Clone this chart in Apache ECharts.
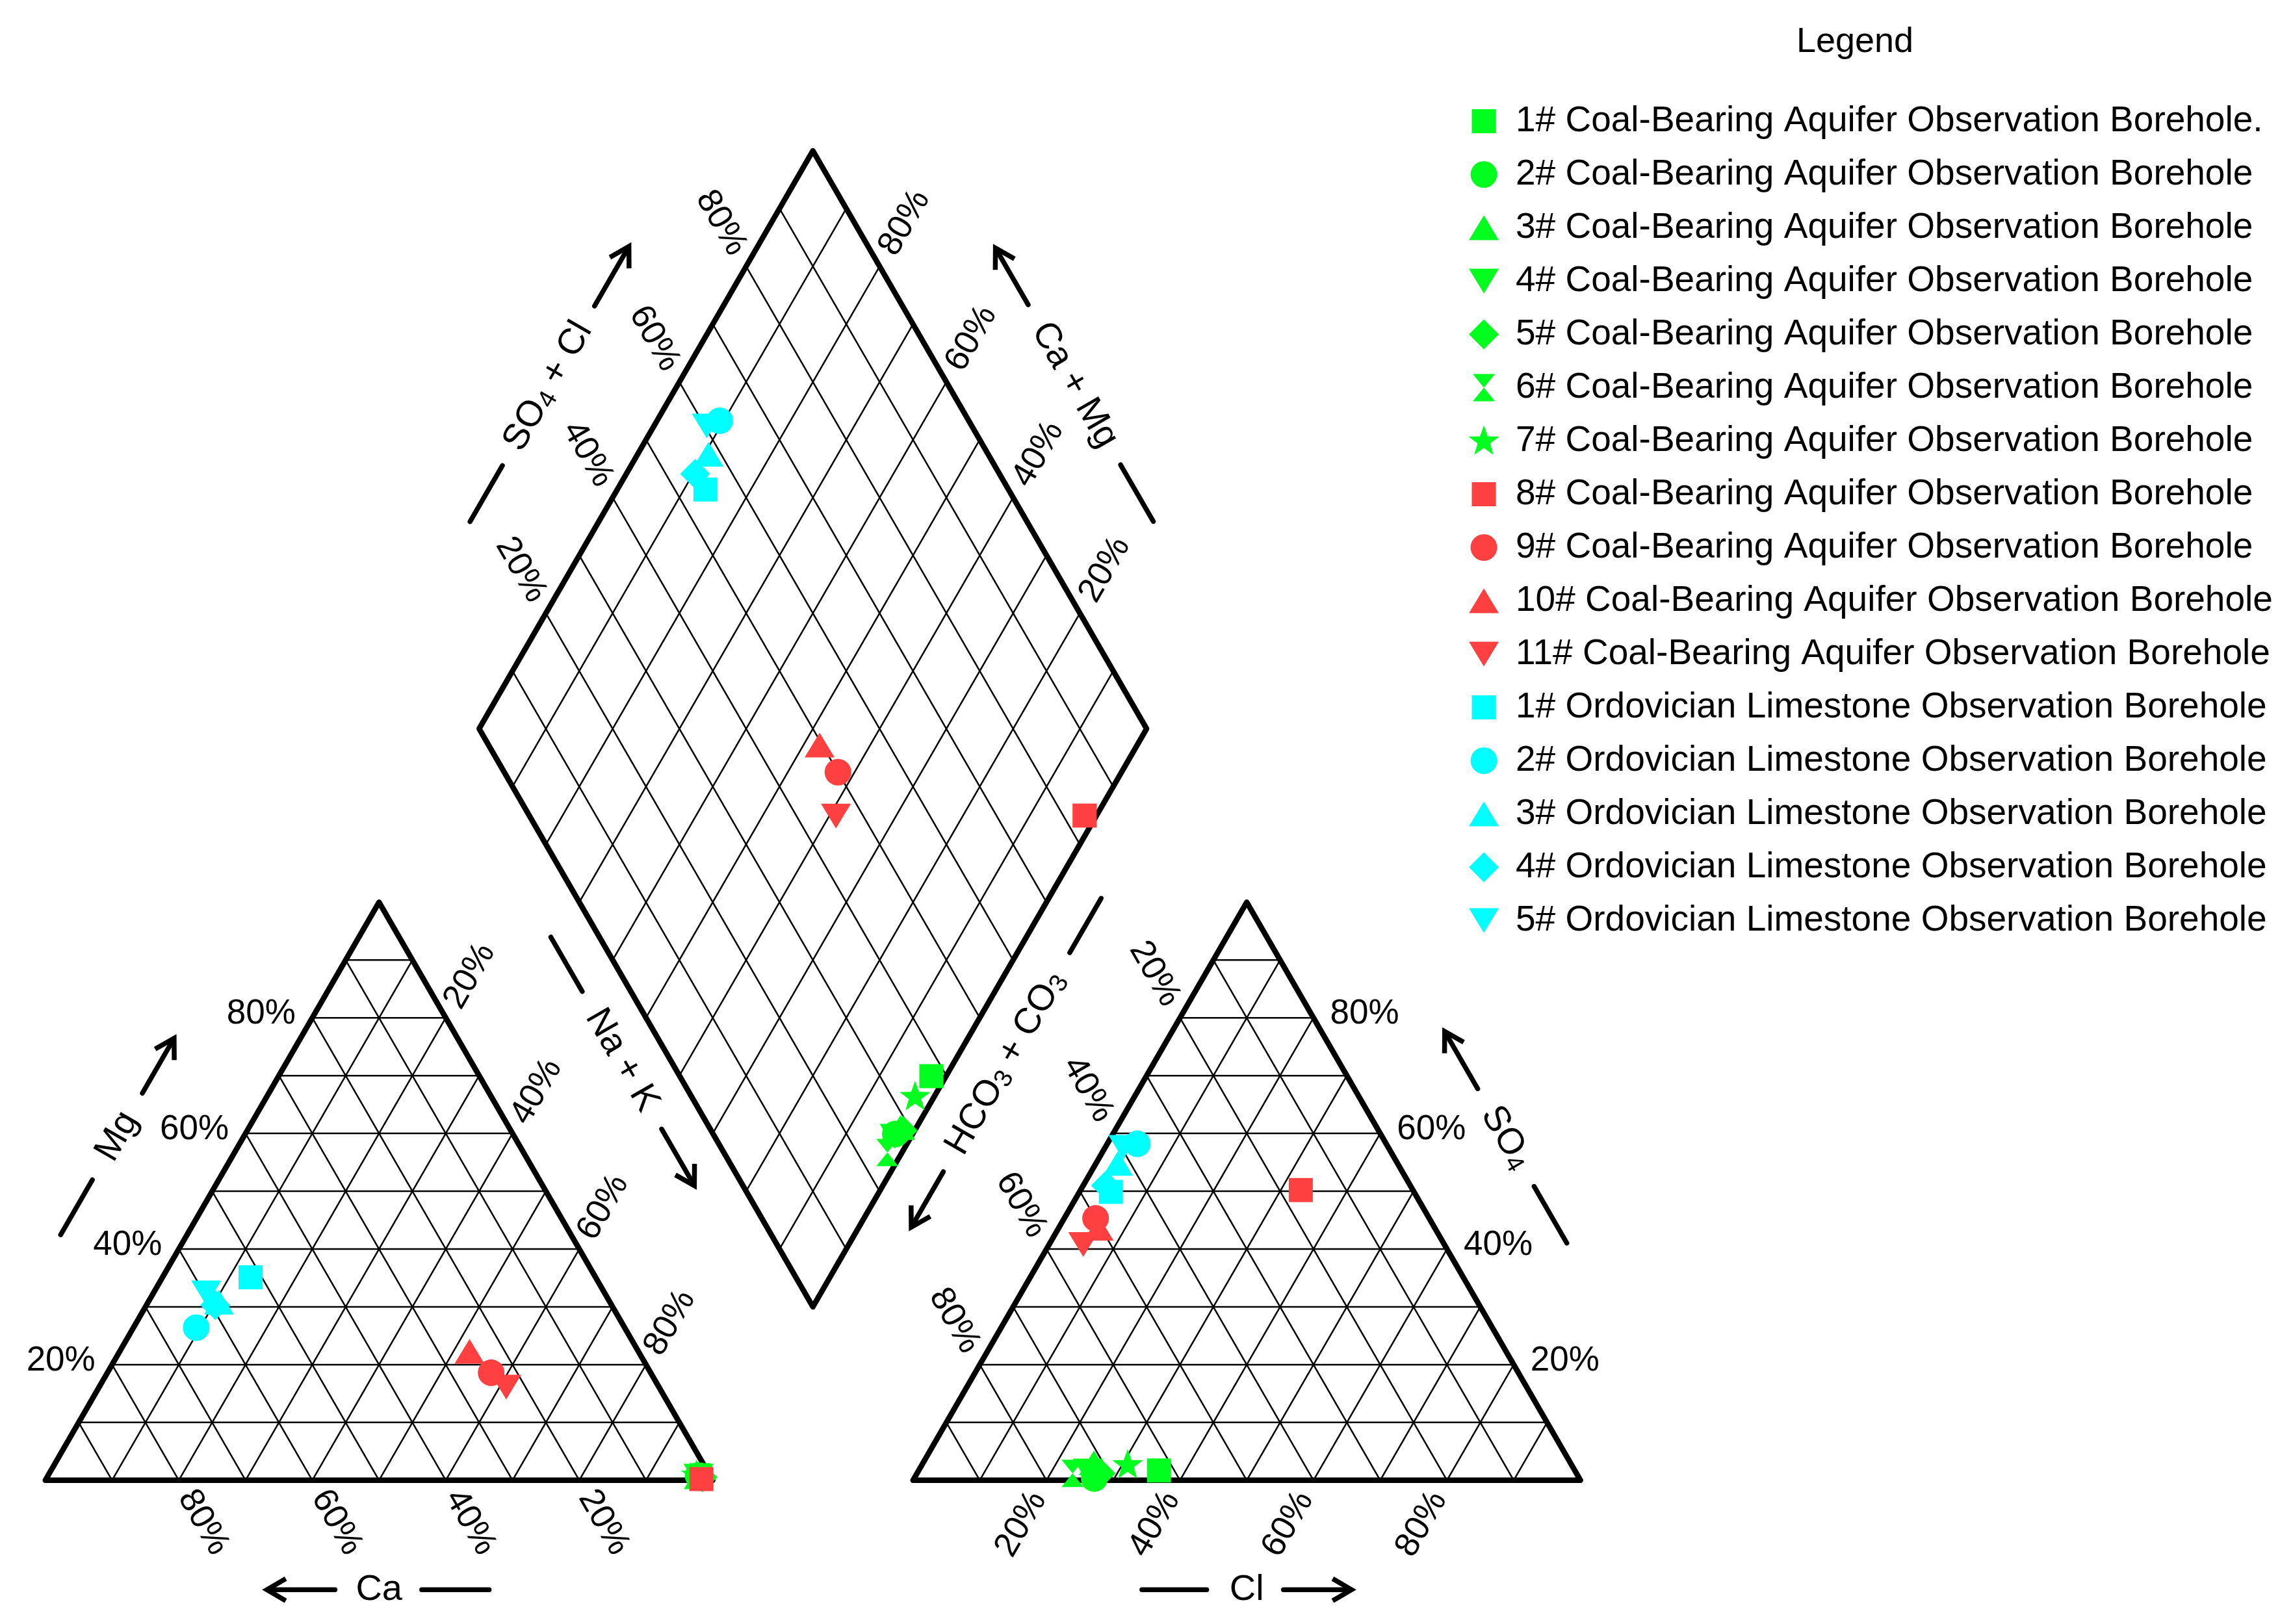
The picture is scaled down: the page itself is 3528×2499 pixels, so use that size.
<!DOCTYPE html>
<html>
<head>
<meta charset="utf-8">
<script src="https://cdn.jsdelivr.net/npm/echarts@6/dist/echarts.min.js"></script>
<style>
html,body{margin:0;padding:0;background:#ffffff;}
#chart{width:3528px;height:2499px;}
</style>
</head>
<body>
<div id="chart"></div>
<script>
// ---------------- DATA (milliequivalent %) ----------------
const sampleNames = [
  '1# Coal-Bearing Aquifer Observation Borehole.',
  '2# Coal-Bearing Aquifer Observation Borehole',
  '3# Coal-Bearing Aquifer Observation Borehole',
  '4# Coal-Bearing Aquifer Observation Borehole',
  '5# Coal-Bearing Aquifer Observation Borehole',
  '6# Coal-Bearing Aquifer Observation Borehole',
  '7# Coal-Bearing Aquifer Observation Borehole',
  '8# Coal-Bearing Aquifer Observation Borehole',
  '9# Coal-Bearing Aquifer Observation Borehole',
  '10# Coal-Bearing Aquifer Observation Borehole',
  '11# Coal-Bearing Aquifer Observation Borehole',
  '1# Ordovician Limestone Observation Borehole',
  '2# Ordovician Limestone Observation Borehole',
  '3# Ordovician Limestone Observation Borehole',
  '4# Ordovician Limestone Observation Borehole',
  '5# Ordovician Limestone Observation Borehole'
];
// cations
const caPct  = [1.5, 1.8, 1.8, 1.8, 1.3, 1.6, 2.0,  1.6, 23.9, 25.3, 22.9,  51.7, 64.2, 58.6, 59.4, 59.7];
const mgPct  = [0.7, 0.8, 0.6, 0.7, 0.5, 0.6, 0.9,  0.2, 18.6, 22.3, 16.1,  35.1, 26.4, 30.8, 30.3, 32.4];
const naKPct = [97.8, 97.4, 97.6, 97.5, 98.2, 97.8, 97.1,  98.2, 57.5, 52.4, 61.0,  13.2, 9.4, 10.6, 10.3, 7.9];
// anions
const hco3Pct = [62.3, 72.7, 71.4, 73.0, 71.3, 75.5, 66.5,  16.8, 50.0, 50.4, 54.1,  45.4, 37.3, 41.9, 45.6, 39.7];
const so4Pct  = [1.7, 0.3, 3.0, 1.6, 1.2, 1.2, 2.7,  50.2, 45.3, 43.6, 40.8,  49.9, 58.2, 54.8, 51.0, 57.6];
const clPct   = [36.0, 27.0, 25.6, 25.4, 27.5, 23.3, 30.8,  33.0, 4.7, 6.0, 5.1,  4.7, 4.5, 3.3, 3.4, 2.7];
// tick labels and grid steps
const tickValues = [20, 40, 60, 80];
const gridSteps = [10, 20, 30, 40, 50, 60, 70, 80, 90];

// ---------------- STYLES ----------------
const FONT = '"Liberation Sans", Arial, Helvetica, sans-serif';
const GREEN = '#00FF1E', RED = '#FF4040', CYAN = '#00FFFF';
const BOX = 'M0,0M50,50';
const SYM = {
  square:  'path://' + BOX + 'M6.5,6.5L43.5,6.5L43.5,43.5L6.5,43.5Z',
  circle:  'path://' + BOX + 'M4.5,25A20.5,20.5,0,1,1,45.5,25A20.5,20.5,0,1,1,4.5,25Z',
  tri:     'path://' + BOX + 'M25,6L48,44L2,44Z',
  invTri:  'path://' + BOX + 'M2,6L48,6L25,44Z',
  diamond: 'path://' + BOX + 'M25,2L48,25L25,48L2,25Z',
  hour:    'path://' + BOX + 'M8,4L42,4L25,25L42,46L8,46L25,25Z',
  star:    'path://' + BOX + 'M25,1L30.88,17.91L48.78,18.27L34.51,29.09L39.69,46.23L25,36L10.31,46.23L15.49,29.09L1.22,18.27L19.12,17.91Z'
};
const sampleColors = [GREEN,GREEN,GREEN,GREEN,GREEN,GREEN,GREEN, RED,RED,RED,RED, CYAN,CYAN,CYAN,CYAN,CYAN];
const sampleSymbols = [SYM.square,SYM.circle,SYM.tri,SYM.invTri,SYM.diamond,SYM.hour,SYM.star,
                       SYM.square,SYM.circle,SYM.tri,SYM.invTri,
                       SYM.square,SYM.circle,SYM.tri,SYM.diamond,SYM.invTri];

// ---------------- GEOMETRY (Piper layout units) ----------------
const S = 100, G = 30, H = Math.sqrt(3) / 2;
const SH = S * H, GH = G * H;
const XMAX = 2 * S + G, YMAX = XMAX * H;

function cationXY(i) { return [naKPct[i] + mgPct[i] / 2, mgPct[i] * H]; }
function anionXY(i)  { return [S + G + clPct[i] + so4Pct[i] / 2, so4Pct[i] * H]; }
function diamondPt(c, a) { return [S + G / 2 - 50 * c + 50 * a, GH + SH * (c + a)]; }
function diamondXY(i) {
  const c = (caPct[i] + mgPct[i]) / 100;
  const a = (so4Pct[i] + clPct[i]) / 100;
  return diamondPt(c, a);
}

// grid segments
const gridSegs = [];
[0, S + G].forEach(function (ox) {
  gridSteps.forEach(function (k) {
    gridSegs.push([ox + k / 2, k * H, ox + S - k / 2, k * H]);
    gridSegs.push([ox + k, 0, ox + k + (S - k) / 2, (S - k) * H]);
    gridSegs.push([ox + S - k, 0, ox + (S - k) / 2, (S - k) * H]);
  });
});
gridSteps.forEach(function (k) {
  const f = k / 100;
  const p1 = diamondPt(0, f), p2 = diamondPt(1, f);
  gridSegs.push([p1[0], p1[1], p2[0], p2[1]]);
  const q1 = diamondPt(f, 0), q2 = diamondPt(f, 1);
  gridSegs.push([q1[0], q1[1], q2[0], q2[1]]);
});

const outlines = [
  [[0, 0], [S, 0], [S / 2, SH]],
  [[S + G, 0], [2 * S + G, 0], [S + G + S / 2, SH]],
  [diamondPt(0, 0), diamondPt(0, 1), diamondPt(1, 1), diamondPt(1, 0)]
];

// tick labels
const R60 = Math.PI / 3;
const tickLabels = [];
tickValues.forEach(function (v) {
  tickLabels.push({x: (S - v) + 7.3 * 0.5, y: -7.3 * H, text: v + '%', rot: -R60, align: 'center'});
  tickLabels.push({x: v / 2 - 2.5, y: v * H + 0.55, text: v + '%', rot: 0, align: 'right'});
  tickLabels.push({x: v + (S - v) / 2 + 7.2 * 0.5, y: (S - v) * H + 7.2 * H, text: v + '%', rot: R60, align: 'center'});
  tickLabels.push({x: S + G + v - 7.6 * 0.5, y: -7.6 * H, text: v + '%', rot: R60, align: 'center'});
  tickLabels.push({x: 2 * S + G - v / 2 + 2.5, y: v * H + 0.55, text: v + '%', rot: 0, align: 'left'});
  tickLabels.push({x: S + G + (S - v) / 2 - 7.6 * 0.5, y: (S - v) * H + 7.6 * H, text: v + '%', rot: -R60, align: 'center'});
  const pa = diamondPt(1, v / 100);
  tickLabels.push({x: pa[0] - 7.5 * 0.5, y: pa[1] + 7.5 * H, text: v + '%', rot: -R60, align: 'center'});
  const pc = diamondPt(v / 100, 1);
  tickLabels.push({x: pc[0] + 7.5 * 0.5, y: pc[1] + 7.5 * H, text: v + '%', rot: R60, align: 'center'});
});

// axis titles with dash + arrow
const axisTitles = [
  {text: '{n|Mg}', o: [0, 0], d: [0.5, H], nrm: [-H, 0.5], p: 16.4, dash: [33, 42.5], t: 50, arrow: [57.5, 67], rot: R60},
  {text: '{n|Ca}', o: [S, 0], d: [-1, 0], nrm: [0, -1], p: 16.4, dash: [33.5, 43.6], t: 50, arrow: [56.6, 66.8], rot: 0},
  {text: '{n|Na + K}', o: [65, GH + SH], d: [0.5, -H], nrm: [-H, -0.5], p: 6.3, dash: [32.4, 41.8], t: 53.7, arrow: [65.6, 75.4], rot: -R60},
  {text: '{n|HCO}{s|3}{n| + CO}{s|3}', o: [165, GH + SH], d: [-0.5, -H], nrm: [H, -0.5], p: 6.8, dash: [25.4, 34.8], t: 53.9, arrow: [72.7, 82.3], rot: R60},
  {text: '{n|SO}{s|4}{n| + Cl}', o: [65, GH + SH], d: [0.5, H], nrm: [-H, 0.5], p: 16.7, dash: [26.2, 35.9], t: 49.6, arrow: [63.5, 73.8], rot: R60},
  {text: '{n|Ca + Mg}', o: [165, GH + SH], d: [-0.5, H], nrm: [H, 0.5], p: 16.4, dash: [26.4, 36.2], t: 50, arrow: [63.9, 73.7], rot: -R60},
  {text: '{n|SO}{s|4}', o: [2 * S + G, 0], d: [-0.5, H], nrm: [H, 0.5], p: 16.0, dash: [31.8, 41.6], t: 50, arrow: [58.5, 68.4], rot: -R60},
  {text: '{n|Cl}', o: [S + G, 0], d: [1, 0], nrm: [0, -1], p: 16.4, dash: [34.3, 44], t: 50, arrow: [55.5, 65.7], rot: 0}
];
function titlePt(T, t) {
  return [T.o[0] + T.d[0] * t + T.nrm[0] * T.p, T.o[1] + T.d[1] * t + T.nrm[1] * T.p];
}

// ---------------- CHART ----------------
const chart = echarts.init(document.getElementById('chart'), null, {renderer: 'canvas'});

const series = [];
series.push({
  type: 'custom', name: 'grid', coordinateSystem: 'cartesian2d', silent: true, z: 1,
  data: gridSegs,
  renderItem: function (params, api) {
    const s = gridSegs[params.dataIndex];
    const a = api.coord([s[0], s[1]]), b = api.coord([s[2], s[3]]);
    return {type: 'line', shape: {x1: a[0], y1: a[1], x2: b[0], y2: b[1]},
            style: {stroke: '#000', lineWidth: 2.5}};
  }
});
series.push({
  type: 'custom', name: 'frame', coordinateSystem: 'cartesian2d', silent: true, z: 2,
  data: outlines.map(function (o) { return o[0]; }),
  renderItem: function (params, api) {
    const pts = outlines[params.dataIndex].map(function (p) { return api.coord(p); });
    return {type: 'polygon', shape: {points: pts},
            style: {fill: 'none', stroke: '#000', lineWidth: 8.5, lineJoin: 'round'}};
  }
});
series.push({
  type: 'custom', name: 'ticks', coordinateSystem: 'cartesian2d', silent: true, z: 3,
  data: tickLabels.map(function (l) { return [l.x, l.y]; }),
  renderItem: function (params, api) {
    const L = tickLabels[params.dataIndex];
    const p = api.coord([L.x, L.y]);
    return {type: 'text', x: p[0], y: p[1], rotation: L.rot,
            style: {text: L.text, fontSize: 53, fontFamily: FONT, fill: '#000',
                    align: L.align, verticalAlign: 'middle'}};
  }
});
series.push({
  type: 'custom', name: 'titles', coordinateSystem: 'cartesian2d', silent: true, z: 3,
  data: axisTitles.map(function (T) { return titlePt(T, T.t); }),
  renderItem: function (params, api) {
    const T = axisTitles[params.dataIndex];
    const d1 = api.coord(titlePt(T, T.dash[0])), d2 = api.coord(titlePt(T, T.dash[1]));
    const a1 = api.coord(titlePt(T, T.arrow[0])), a2 = api.coord(titlePt(T, T.arrow[1]));
    const tc = api.coord(titlePt(T, T.t));
    let dx = a2[0] - a1[0], dy = a2[1] - a1[1];
    const len = Math.sqrt(dx * dx + dy * dy); dx /= len; dy /= len;
    const AL = 29, AW = 17;
    const h1 = [a2[0] - dx * AL - dy * AW, a2[1] - dy * AL + dx * AW];
    const h2 = [a2[0] - dx * AL + dy * AW, a2[1] - dy * AL - dx * AW];
    const ls = {stroke: '#000', lineWidth: 7.5, lineCap: 'round', lineJoin: 'miter'};
    return {type: 'group', children: [
      {type: 'line', shape: {x1: d1[0], y1: d1[1], x2: d2[0], y2: d2[1]}, style: ls},
      {type: 'line', shape: {x1: a1[0], y1: a1[1], x2: a2[0] - dx * 3, y2: a2[1] - dy * 3}, style: ls},
      {type: 'polyline', shape: {points: [h1, a2, h2]}, style: {stroke: '#000', lineWidth: 7.5, lineCap: 'butt', lineJoin: 'miter', fill: 'none'}},
      {type: 'text', x: tc[0], y: tc[1], rotation: T.rot,
       style: {text: T.text, align: 'center', verticalAlign: 'middle', fill: '#000',
               rich: {
                 n: {fontSize: 56, fontFamily: FONT, color: '#000', lineHeight: 60, verticalAlign: 'middle'},
                 s: {fontSize: 39, fontFamily: FONT, color: '#000', lineHeight: 39, verticalAlign: 'bottom'}
               }}}
    ]};
  }
});

sampleNames.forEach(function (name, i) {
  series.push({
    type: 'scatter', name: name, coordinateSystem: 'cartesian2d',
    symbol: sampleSymbols[i], symbolSize: 50, symbolKeepAspect: false,
    itemStyle: {color: sampleColors[i], opacity: 1},
    data: [cationXY(i), anionXY(i), diamondXY(i)],
    clip: false, silent: true, z: 10
  });
});

chart.setOption({
  backgroundColor: '#ffffff',
  animation: false,
  grid: {left: 69.7, top: 232, width: 2362, height: 2045.8, containLabel: false},
  xAxis: {type: 'value', min: 0, max: XMAX, show: false},
  yAxis: {type: 'value', min: 0, max: YMAX, show: false},
  legend: {
    orient: 'vertical', left: 2253, top: 154, padding: 5,
    itemWidth: 88, itemHeight: 50, itemGap: 27, selectedMode: false,
    symbolKeepAspect: true,
    textStyle: {fontSize: 55, lineHeight: 50, fontFamily: FONT, color: '#000'},
    data: sampleNames
  },
  graphic: [{
    type: 'text', x: 2854, y: 65,
    style: {text: 'Legend', fontSize: 54, fontFamily: FONT, fill: '#000', align: 'center', verticalAlign: 'middle'}
  }],
  series: series
});
</script>
</body>
</html>
